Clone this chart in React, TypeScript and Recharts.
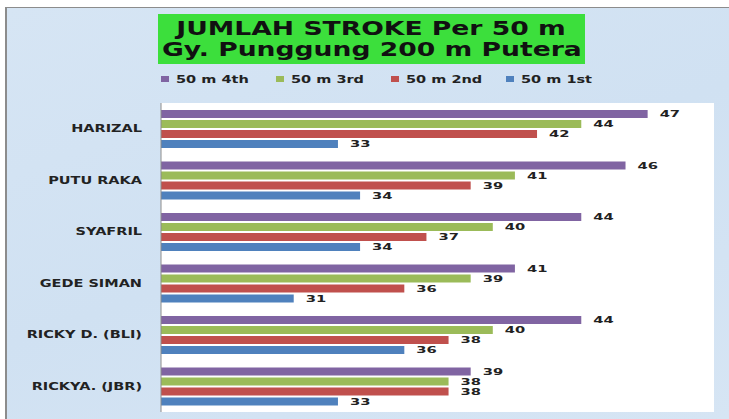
import { Bar, BarChart, CartesianGrid, LabelList, XAxis, YAxis } from "recharts";

const swimmers = ["HARIZAL", "PUTU RAKA", "SYAFRIL", "GEDE SIMAN", "RICKY D. (BLI)", "RICKYA. (JBR)"];
const lap4th = [47, 46, 44, 41, 44, 39];
const lap3rd = [44, 41, 40, 39, 40, 38];
const lap2nd = [42, 39, 37, 36, 38, 38];
const lap1st = [33, 34, 34, 31, 36, 33];
const seriesNames = ["50 m 4th", "50 m 3rd", "50 m 2nd", "50 m 1st"];
const seriesKeys = ["lap4", "lap3", "lap2", "lap1"];
const titleLines = ["JUMLAH STROKE Per 50 m", "Gy. Punggung 200 m Putera"];

const COLORS = ["#8064a2", "#9bbb59", "#c0504d", "#4f81bd"];
const FONT = "'DejaVu Sans', sans-serif";
const STRETCH = 1.45;

const data = swimmers.map((name, i) => ({
  name,
  lap4: lap4th[i],
  lap3: lap3rd[i],
  lap2: lap2nd[i],
  lap1: lap1st[i],
}));

function SwimmerTick({ x, y, payload }: any) {
  return (
    <g transform={`translate(${x},${y})`}>
      <text
        transform={`scale(${STRETCH},1)`}
        textAnchor="end"
        dy="0.36em"
        fontFamily={FONT}
        fontWeight="bold"
        fontSize={10}
        fill="#222"
      >
        {payload.value}
      </text>
    </g>
  );
}

// value at the end of each bar, stretched like the slide text
function ValueLabel({ x, y, width, height, value }: any) {
  const lx = Number(x) + Number(width) + 12;
  const ly = Number(y) + Number(height) / 2;
  return (
    <g transform={`translate(${lx},${ly})`}>
      <text
        transform="scale(1.55,1)"
        dy="0.36em"
        fontFamily={FONT}
        fontWeight="bold"
        fontSize={9.5}
        fill="#222"
      >
        {value}
      </text>
    </g>
  );
}

export default function App() {
  return (
    <div style={{ position: "absolute", left: 0, top: 0, width: 729, height: 419, background: "#fff", overflow: "hidden" }}>
      <div
        style={{
          position: "absolute",
          left: 5,
          top: 7,
          right: 0,
          bottom: 0,
          background: "linear-gradient(160deg, #d6e5f4 0%, #d0e1f2 50%, #d6e5f4 100%)",
          borderTop: "1.5px solid #8c8c8c",
          borderLeft: "2px solid #8c8c8c",
        }}
      />

      {/* title box */}
      <div
        style={{
          position: "absolute",
          left: 158,
          top: 14,
          width: 427,
          height: 50,
          background: "#3cdf3c",
          textAlign: "center",
          fontFamily: FONT,
          fontWeight: "bold",
          fontSize: 19,
          lineHeight: "20.5px",
          color: "#111",
          paddingTop: 4,
          boxSizing: "border-box",
        }}
      >
        {titleLines.map((t) => (
          <div key={t} style={{ whiteSpace: "nowrap" }}>
            <span style={{ display: "inline-block", transform: "scaleX(1.4)" }}>{t}</span>
          </div>
        ))}
      </div>

      {/* legend */}
      <div style={{ position: "absolute", left: 161, top: 72, display: "flex", fontFamily: FONT, fontWeight: "bold", fontSize: 10, color: "#222" }}>
        {seriesNames.map((n, i) => (
          <div key={n} style={{ width: 115, display: "flex", alignItems: "center", height: 14 }}>
            <span style={{ width: 8, height: 6, background: COLORS[i], marginRight: 7 }} />
            <span style={{ display: "inline-block", whiteSpace: "nowrap", transform: `scaleX(${STRETCH})`, transformOrigin: "left center" }}>{n}</span>
          </div>
        ))}
      </div>

      <div style={{ position: "absolute", left: 0, top: 0 }}>
        <BarChart
          width={729}
          height={419}
          data={data}
          layout="vertical"
          margin={{ top: 103, right: 15, bottom: 7, left: 0 }}
          barSize={8}
          barGap={2}
        >
          <CartesianGrid fill="#ffffff" horizontal={false} vertical={false} />
          <XAxis type="number" domain={[25, 50]} hide />
          <YAxis
            type="category"
            dataKey="name"
            width={161}
            tickSize={0}
            tickMargin={19}
            tickLine={false}
            axisLine={{ stroke: "#8c8c8c" }}
            tick={<SwimmerTick />}
            interval={0}
          />
          {seriesKeys.map((k, i) => (
            <Bar key={k} dataKey={k} name={seriesNames[i]} fill={COLORS[i]} isAnimationActive={false}>
              <LabelList dataKey={k} content={<ValueLabel />} />
            </Bar>
          ))}
        </BarChart>
      </div>
    </div>
  );
}
